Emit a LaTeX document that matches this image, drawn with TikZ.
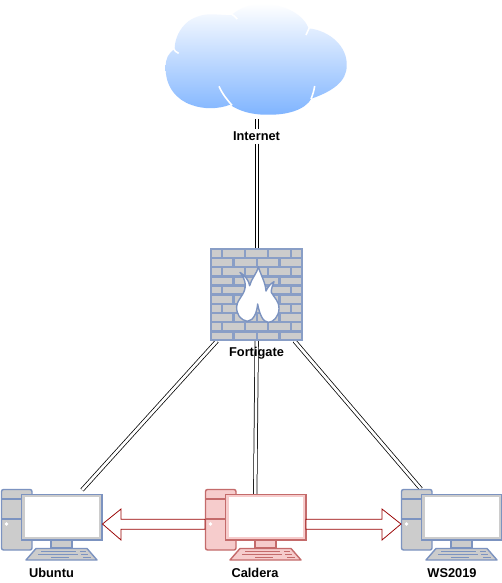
\documentclass[tikz,border=0pt]{standalone}
\usepackage{fontspec}
\setmainfont{Liberation Sans}
\definecolor{bluel}{HTML}{7C93C0}
\definecolor{grayf}{HTML}{CCCCCC}
\definecolor{redl}{HTML}{C46B6B}
\definecolor{redf}{HTML}{F6CCCC}
\definecolor{arrowred}{HTML}{990000}
\definecolor{cloudbot}{HTML}{7FB4FF}
\tikzset{
  lbl/.style={font=\fontsize{12.8pt}{14pt}\selectfont\bfseries, text=black, inner sep=0.5pt},
  dbl/.style={draw=black, line width=0.75pt, double=white, double distance=2.7pt},
  bigarrow/.style={draw=arrowred, fill=white, line width=0.75pt, line join=miter},
  pics/computer/.style args={#1/#2/#3}{code={
    \path[draw=#1, fill=#2, line width=1.4pt, rounded corners=2pt] (1.5,489.5) rectangle (32,550);
    \draw[#1, line width=1.4pt] (1.5,499) -- (32,499) (1.5,519) -- (32,519);
    \fill[white] (6.5,524) circle (1.8);
    \path[draw=#1, fill=#2, line width=1.4pt] (51,540) rectangle (72,548);
    \path[draw=#1, fill=#2, line width=1.4pt, line join=round] (36,548.5) -- (87,548.5) -- (97,560) -- (26,560) -- cycle;
    \draw[#1, line width=1.6pt] (41,551.5) -- (76,551.5) (80,551.5) -- (86,551.5)
       (38,554.5) -- (78,554.5) (81,554.5) -- (88,554.5)
       (51,557.5) -- (69,557.5) (83,557.5) -- (91,557.5);
    \path[draw=#1, fill=#3, line width=1.4pt] (21.5,494.5) rectangle (102,540);
    \fill[white] (24.5,497) rectangle (99,537);
  }}
}
\begin{document}
\begin{tikzpicture}[x=1pt,y=-1pt]
\useasboundingbox (0,0) rectangle (502,583);
\fill[white] (0,0) rectangle (502,583);

% cloud
\begin{scope}[shift={(150,0)},x=1pt/3,y=-1pt/3]
\shade[top color=white, bottom color=cloudbot]
  (74,147) .. controls (74,118) and (88,85) .. (115,64)
  .. controls (135,50) and (160,42) .. (185,43)
  .. controls (205,43) and (225,46) .. (245,45)
  .. controls (270,22) and (310,10) .. (345,13)
  .. controls (410,15) and (460,45) .. (476,85)
  .. controls (540,92) and (592,140) .. (590,195)
  .. controls (592,245) and (545,275) .. (484,296)
  .. controls (465,330) and (410,346) .. (350,344)
  .. controls (305,345) and (265,332) .. (240,314)
  .. controls (205,328) and (160,328) .. (125,315)
  .. controls (80,300) and (45,260) .. (47,200)
  .. controls (47,175) and (55,160) .. (74,147) -- cycle;
\draw[white, line width=1.6pt]
  (207,259) .. controls (217,282) and (232,300) .. (246,316)
  (494,258) .. controls (492,272) and (488,285) .. (483,297)
  (468,105) .. controls (471,98) and (474,92) .. (478,83)
  (262,57) .. controls (256,50) and (250,46) .. (243,41)
  (70,145) .. controls (74,152) and (78,157) .. (86,160);
\end{scope}

\node[lbl, fill=white, inner ysep=2.5pt] (internet) at (256.5,136.5) {Internet};
\coordinate (cloudb) at (257,119);
\coordinate (fwt) at (257,248);
\coordinate (fwb) at (256.7,341);
\coordinate (fwl) at (217,341);
\coordinate (fwr) at (294.5,341);
\coordinate (ubt) at (82,490);
\coordinate (calt) at (255.2,494);
\coordinate (wst) at (421,489);

\draw[dbl] (cloudb) -- (cloudb |- internet.north);
\draw[dbl] (fwt |- internet.south) -- (fwt);
\draw[dbl] (fwl) -- (ubt);
\draw[dbl] (fwr) -- (wst);
\draw[dbl] (fwb) -- (calt);

% firewall
\fill[bluel!90!white] (210,248) rectangle (303,341);
\begin{scope}[shift={(210,248)}]
\foreach \r in {0,2,4,6,8} {
  \foreach \a/\b in {1.7/10.7, 13.3/34, 36/56.7, 59.3/80, 82.3/91} {
    \fill[grayf] (\a,{2+\r*9.17}) rectangle (\b,{8.7+\r*9.17});
  }
}
\foreach \r in {1,3,5,7,9} {
  \foreach \a/\b in {1.7/22.3, 25/45.7, 48.3/68.3, 70.7/91} {
    \fill[grayf] (\a,{2+\r*9.17}) rectangle (\b,{8.7+\r*9.17});
  }
}
\end{scope}
\begin{scope}[shift={(190,235)},x=1pt/3,y=-1pt/3]
\path[draw=bluel, fill=white, line width=1.4pt, line join=round]
  (172,259) .. controls (152,255) and (139,240) .. (140,215)
  .. controls (142,190) and (166,180) .. (166,150)
  .. controls (165,135) and (158,122) .. (150,112)
  .. controls (165,122) and (176,135) .. (179,152)
  .. controls (184,130) and (200,118) .. (205,95)
  .. controls (212,120) and (226,140) .. (228,168)
  .. controls (234,155) and (242,146) .. (252,140)
  .. controls (248,152) and (243,162) .. (244,172)
  .. controls (252,188) and (268,198) .. (267,222)
  .. controls (266,245) and (250,262) .. (235,262)
  .. controls (218,262) and (208,235) .. (203,207)
  .. controls (201,230) and (192,257) .. (172,259) -- cycle;
\end{scope}
\node[lbl] (fortigate) at (256.5,353) {Fortigate};

% computers
\pic (ubuntu) at (0,0) {computer={bluel/grayf/grayf}};
\pic (caldera) at (204,0) {computer={redl/redf/redf}};
\pic (ws) at (400,0) {computer={bluel/grayf/grayf}};
\node[lbl] (ubuntulbl) at (51.5,573) {Ubuntu};
\node[lbl] (calderalbl) at (255,573) {Caldera};
\node[lbl] (wslbl) at (452,573) {WS2019};

% red arrows
\coordinate (ltip) at (102.5,524);
\coordinate (rtip) at (401,524);
\path[bigarrow] (ltip) -- (121,509) -- (121,519.3) -- (205,519.3) -- (205,529.3) -- (121,529.3) -- (121,540) -- cycle;
\path[bigarrow] (rtip) -- (382,509) -- (382,519.3) -- (306,519.3) -- (306,529.3) -- (382,529.3) -- (382,540) -- cycle;
\end{tikzpicture}
\end{document}
